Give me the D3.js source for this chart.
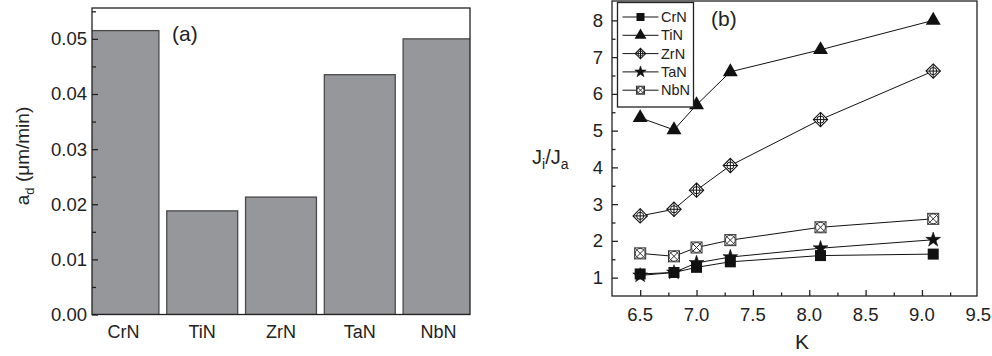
<!DOCTYPE html>
<html>
<head>
<meta charset="utf-8">
<script src="https://cdn.jsdelivr.net/npm/d3@7"></script>
<style>
  body { margin: 0; background: #fff; }
  svg { font-family: "Liberation Sans", Arial, sans-serif; }
</style>
</head>
<body>
<div class="chart"></div>
<script>
// panel (a) data
const barCats = ['CrN', 'TiN', 'ZrN', 'TaN', 'NbN'];
const barVals = [0.0515, 0.0188, 0.0213, 0.0435, 0.0500];
const barTicks = [0, 0.01, 0.02, 0.03, 0.04, 0.05];

// panel (b) data
const kVals = [6.5, 6.8, 7.0, 7.3, 8.1, 9.1];
const crnVals = [1.10, 1.14, 1.28, 1.43, 1.60, 1.64];
const tinVals = [5.35, 5.02, 5.70, 6.60, 7.20, 8.00];
const zrnVals = [2.68, 2.86, 3.38, 4.05, 5.30, 6.62];
const tanVals = [1.06, 1.14, 1.40, 1.56, 1.80, 2.03];
const nbnVals = [1.66, 1.58, 1.82, 2.02, 2.37, 2.60];
const seriesNames = ['CrN', 'TiN', 'ZrN', 'TaN', 'NbN'];
const kTicks = [6.5, 7.0, 7.5, 8.0, 8.5, 9.0, 9.5];
const jTicks = [1, 2, 3, 4, 5, 6, 7, 8];

const svg = d3.select('.chart').append('svg')
  .attr('width', 992).attr('height', 356);

// ---------- panel (a) ----------
const a = {left: 92, right: 470, top: 8, bottom: 314.5};
const xa = d3.scaleBand().domain(barCats).range([88, 474]).paddingInner(0.1);
const ya = d3.scaleLinear().domain([0, 0.0556]).range([a.bottom, a.top]);

svg.append('clipPath').attr('id', 'clipa').append('rect')
  .attr('x', a.left).attr('y', a.top)
  .attr('width', a.right - a.left).attr('height', a.bottom - a.top);

svg.append('g').attr('clip-path', 'url(#clipa)')
  .selectAll('rect').data(barCats).join('rect')
  .attr('x', d => xa(d))
  .attr('y', (d, i) => ya(barVals[i]))
  .attr('width', xa.bandwidth())
  .attr('height', (d, i) => ya(0) - ya(barVals[i]))
  .attr('fill', '#96979b')
  .attr('stroke', '#4a4a4a')
  .attr('stroke-width', 1.3);

// frame
svg.append('rect')
  .attr('x', a.left).attr('y', a.top)
  .attr('width', a.right - a.left).attr('height', a.bottom - a.top)
  .attr('fill', 'none').attr('stroke', '#222').attr('stroke-width', 1.3);

// y axis (ticks inward)
const yaxA = svg.append('g').attr('transform', `translate(${a.left},0)`)
  .call(d3.axisRight(ya).tickValues(d3.range(0, 0.0556, 0.005)).tickSize(4).tickFormat(''));
yaxA.select('.domain').remove();
yaxA.selectAll('line').attr('stroke', '#222').attr('stroke-width', 1.3)
  .attr('x2', (d) => Math.round(d * 1000) % 10 === 0 ? 6 : 4);
svg.append('g').selectAll('text').data(barTicks).join('text')
  .attr('x', a.left - 5).attr('y', d => ya(d) + 6.5)
  .attr('text-anchor', 'end').attr('font-size', 18.5).attr('fill', '#222')
  .text(d => d3.format('.2f')(d));

// x labels
svg.append('g').selectAll('text').data(barCats).join('text')
  .attr('x', d => xa(d) + xa.bandwidth() / 2).attr('y', 338)
  .attr('text-anchor', 'middle').attr('font-size', 18).attr('fill', '#222')
  .text(d => d);

// y title
const ta = svg.append('text')
  .attr('transform', 'translate(29,156) rotate(-90)')
  .attr('text-anchor', 'middle').attr('font-size', 19).attr('fill', '#222');
ta.append('tspan').text('a');
ta.append('tspan').attr('font-size', 13).attr('dy', 5).text('d');
ta.append('tspan').attr('dy', -5).text(' (\u03bcm/min)');

svg.append('text').attr('x', 172).attr('y', 41)
  .attr('font-size', 21).attr('fill', '#222').text('(a)');

// ---------- panel (b) ----------
const b = {left: 612, right: 977, top: 1, bottom: 296};
const xb = d3.scaleLinear().domain([6.25, 9.5]).range([b.left, 978.3]);
const yb = d3.scaleLinear().domain([0.5, 8.5]).range([b.bottom, 2]);

svg.append('rect')
  .attr('x', b.left).attr('y', b.top)
  .attr('width', b.right - b.left).attr('height', b.bottom - b.top)
  .attr('fill', 'none').attr('stroke', '#222').attr('stroke-width', 1.3);

const xaxB = svg.append('g').attr('transform', `translate(0,${b.bottom})`)
  .call(d3.axisTop(xb).tickValues(d3.range(6.5, 9.5, 0.25)).tickSize(5).tickFormat(''));
xaxB.select('.domain').remove();
xaxB.selectAll('line').attr('stroke', '#222').attr('stroke-width', 1.3)
  .attr('y2', d => (d * 2) % 1 === 0 ? -6 : -3.5);
svg.append('g').selectAll('text').data(kTicks).join('text')
  .attr('x', d => xb(d)).attr('y', 321)
  .attr('text-anchor', 'middle').attr('font-size', 18.5).attr('fill', '#222')
  .text(d => d3.format('.1f')(d));

const yaxB = svg.append('g').attr('transform', `translate(${b.left},0)`)
  .call(d3.axisRight(yb).tickValues(d3.range(1, 8.5, 0.5)).tickSize(5).tickFormat(''));
yaxB.select('.domain').remove();
yaxB.selectAll('line').attr('stroke', '#222').attr('stroke-width', 1.3)
  .attr('x2', d => d % 1 === 0 ? 6 : 3.5);
svg.append('g').selectAll('text').data(jTicks).join('text')
  .attr('x', b.left - 9).attr('y', d => yb(d) + 6.5)
  .attr('text-anchor', 'end').attr('font-size', 18.5).attr('fill', '#222')
  .text(d => d);

// axis titles
svg.append('text').attr('x', 802).attr('y', 349).attr('text-anchor', 'middle')
  .attr('font-size', 21).attr('fill', '#222').text('K');
const tb = svg.append('text').attr('x', 532).attr('y', 164)
  .attr('font-size', 20).attr('fill', '#222');
tb.append('tspan').text('J');
tb.append('tspan').attr('font-size', 14).attr('dy', 5).text('i');
tb.append('tspan').attr('dy', -5).text('/J');
tb.append('tspan').attr('font-size', 14).attr('dy', 5).text('a');

svg.append('text').attr('x', 711).attr('y', 26)
  .attr('font-size', 21).attr('fill', '#222').text('(b)');

// markers
function drawMarker(g, name, s) {
  const ink = '#111';
  if (name === 'CrN') {
    g.append('rect').attr('x', -s * 0.5).attr('y', -s * 0.5)
      .attr('width', s).attr('height', s).attr('fill', ink);
  } else if (name === 'TiN') {
    g.append('path').attr('d', d3.symbol(d3.symbolTriangle, s * s * 0.43)())
      .attr('fill', ink);
  } else if (name === 'ZrN') {
    const r = s * 0.65;
    g.append('path').attr('d', `M0,${-r}L${r},0L0,${r}L${-r},0Z`)
      .attr('fill', '#fff').attr('stroke', ink).attr('stroke-width', 1.1);
    g.append('path').attr('d', `M0,${-r}V${r}M${-r},0H${r}`)
      .attr('stroke', ink).attr('stroke-width', 1);
    g.append('circle').attr('r', r * 0.5).attr('fill', 'none')
      .attr('stroke', ink).attr('stroke-width', 1);
  } else if (name === 'TaN') {
    g.append('path').attr('d', d3.symbol(d3.symbolStar, s * s * 0.4)())
      .attr('fill', ink).attr('stroke', ink).attr('stroke-width', 0.6);
  } else {
    const h = s * 0.5;
    g.append('rect').attr('x', -h).attr('y', -h).attr('width', s).attr('height', s)
      .attr('fill', '#fff').attr('stroke', '#333').attr('stroke-width', 1);
    g.append('path').attr('d', `M${-h},${-h}L${h},${h}M${h},${-h}L${-h},${h}`)
      .attr('stroke', '#333').attr('stroke-width', 1);
    g.append('circle').attr('r', h * 0.9).attr('fill', 'none')
      .attr('stroke', '#333').attr('stroke-width', 1);
  }
}

const seriesVals = [crnVals, tinVals, zrnVals, tanVals, nbnVals];
const markerSize = [11, 15, 11, 13, 11];
const line = d3.line().x(d => xb(d[0])).y(d => yb(d[1]));

// lines first, then markers on top
seriesVals.forEach(vals => {
  svg.append('path').datum(kVals.map((k, i) => [k, vals[i]]))
    .attr('d', line).attr('fill', 'none').attr('stroke', '#111').attr('stroke-width', 1);
});
[4, 2, 0, 3, 1].forEach(si => {
  kVals.forEach((k, i) => {
    const g = svg.append('g').attr('transform', `translate(${xb(k)},${yb(seriesVals[si][i])})`);
    drawMarker(g, seriesNames[si], markerSize[si]);
  });
});

// legend
const lg = svg.append('g');
lg.append('rect').attr('x', 617.5).attr('y', 2.5).attr('width', 76).attr('height', 104.5)
  .attr('fill', '#fff').attr('stroke', '#222').attr('stroke-width', 1.3);
seriesNames.forEach((name, i) => {
  const y = 17 + i * 18.3;
  lg.append('line').attr('x1', 622.5).attr('x2', 658.5).attr('y1', y).attr('y2', y)
    .attr('stroke', '#111').attr('stroke-width', 1);
  const g = lg.append('g').attr('transform', `translate(640.5,${y})`);
  drawMarker(g, name, [8, 12, 8, 10, 8][i]);
  lg.append('text').attr('x', 661).attr('y', y + 5)
    .attr('font-size', 14.5).attr('fill', '#222').text(name);
});
</script>
</body>
</html>
